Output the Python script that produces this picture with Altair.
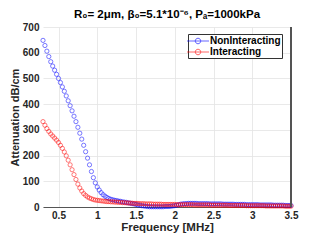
import altair as alt
import pandas as pd

freq = [
    0.300, 0.325, 0.350, 0.375, 0.400, 0.425, 0.450, 0.475, 0.500, 0.525,
    0.550, 0.575, 0.600, 0.625, 0.650, 0.675, 0.700, 0.725, 0.750, 0.775,
    0.800, 0.825, 0.850, 0.875, 0.900, 0.925, 0.950, 0.975, 1.000, 1.025,
    1.050, 1.075, 1.100, 1.125, 1.150, 1.175, 1.200, 1.225, 1.250, 1.275,
    1.300, 1.325, 1.350, 1.375, 1.400, 1.425, 1.450, 1.475, 1.500, 1.525,
    1.550, 1.575, 1.600, 1.625, 1.650, 1.675, 1.700, 1.725, 1.750, 1.775,
    1.800, 1.825, 1.850, 1.875, 1.900, 1.925, 1.950, 1.975, 2.000, 2.025,
    2.050, 2.075, 2.100, 2.125, 2.150, 2.175, 2.200, 2.225, 2.250, 2.275,
    2.300, 2.325, 2.350, 2.375, 2.400, 2.425, 2.450, 2.475, 2.500, 2.525,
    2.550, 2.575, 2.600, 2.625, 2.650, 2.675, 2.700, 2.725, 2.750, 2.775,
    2.800, 2.825, 2.850, 2.875, 2.900, 2.925, 2.950, 2.975, 3.000, 3.025,
    3.050, 3.075, 3.100, 3.125, 3.150, 3.175, 3.200, 3.225, 3.250, 3.275,
    3.300, 3.325, 3.350, 3.375, 3.400, 3.425, 3.450, 3.475, 3.500,
]

non_interacting = [
    648, 628, 606, 585, 565, 548, 532, 516, 500, 484,
    467, 450, 432, 413, 394, 374, 353, 332, 310, 287,
    264, 240, 215, 190, 164, 138, 114, 94, 78, 66,
    56, 48, 42, 37, 33, 30, 28, 26, 25, 23,
    22, 20, 19, 18, 16, 15, 13, 12, 10, 8,
    7, 5, 4, 3, 2, 1, 1, 1, 1, 1,
    1, 1, 1, 2, 2, 2, 3, 4, 5, 7,
    9, 11, 12, 13, 13, 14, 14, 14, 14, 14,
    13, 13, 13, 13, 13, 13, 12, 12, 12, 12,
    12, 12, 12, 11, 11, 11, 11, 11, 11, 10,
    10, 10, 10, 10, 10, 9, 9, 9, 9, 9,
    9, 9, 8, 8, 8, 8, 8, 8, 8, 7,
    7, 7, 7, 7, 7, 6, 6, 6, 6,
]

interacting = [
    332, 318, 305, 294, 284, 276, 268, 260, 251, 240,
    228, 214, 199, 182, 164, 145, 126, 107, 89, 74,
    62, 52, 45, 39, 35, 32, 29, 27, 26, 25,
    24, 23, 22, 21, 21, 20, 20, 19, 19, 18,
    18, 17, 17, 16, 16, 15, 15, 14, 14, 14,
    13, 13, 13, 12, 12, 12, 12, 11, 11, 11,
    11, 11, 10, 10, 10, 10, 10, 10, 10, 9,
    9, 9, 9, 9, 9, 9, 9, 9, 8, 8,
    8, 8, 8, 8, 8, 8, 8, 7, 7, 7,
    7, 7, 7, 7, 7, 7, 6, 6, 6, 6,
    6, 6, 6, 6, 6, 5, 5, 5, 5, 5,
    5, 5, 5, 5, 5, 4, 4, 4, 4, 4,
    4, 4, 4, 4, 4, 3, 3, 3, 3,
]

series_names = ["NonInteracting", "Interacting"]
series_colors = ["#0000ff", "#ff0000"]
x_ticks = [0.5, 1, 1.5, 2, 2.5, 3, 3.5]
y_ticks = [0, 100, 200, 300, 400, 500, 600, 700]
title_text = ["R₀= 2μm, β₀=5.1*10⁻⁶, Pₐ=1000kPa"]

df = pd.concat([
    pd.DataFrame({"f": freq, "att": non_interacting, "series": series_names[0], "ord": 0}),
    pd.DataFrame({"f": freq, "att": interacting, "series": series_names[1], "ord": 1}),
], ignore_index=True)

FONT = "Liberation Sans"
W, H = 248, 180

legend_path = "M-2,0H2M0.5,0A0.5,0.5,0,1,1,-0.5,0A0.5,0.5,0,1,1,0.5,0"

points = alt.Chart(df).mark_point(
    shape="circle", filled=False, size=18, strokeWidth=0.7, opacity=0.75, clip=False
).encode(
    x=alt.X("f:Q", scale=alt.Scale(domain=[0.3, 3.5], nice=False, zero=False),
            axis=alt.Axis(values=x_ticks, title="Frequency [MHz]", format="~g",
                          grid=True, gridColor="#e3e3e3", gridWidth=0.8,
                          domain=True, domainColor="#555555", domainWidth=1,
                          ticks=False, labelPadding=3, labelFlush=False,
                          labelFont=FONT, labelFontSize=10, labelFontWeight="bold",
                          labelColor="#262626", titleFont=FONT, titleFontSize=11.5,
                          titleFontWeight="bold", titleColor="#262626", titlePadding=1)),
    y=alt.Y("att:Q", scale=alt.Scale(domain=[0, 700], nice=False),
            axis=alt.Axis(values=y_ticks, title="Attenuation dB/cm",
                          grid=True, gridColor="#e3e3e3", gridWidth=0.8,
                          domain=False, ticks=False, labelPadding=4, labelFlush=False,
                          labelFont=FONT, labelFontSize=10, labelFontWeight="bold",
                          labelColor="#262626", titleFont=FONT, titleFontSize=11,
                          titleFontWeight="bold", titleColor="#262626", titlePadding=2)),
    color=alt.Color("series:N",
                    scale=alt.Scale(domain=series_names, range=series_colors),
                    legend=alt.Legend(
                        title=None, orient="none", legendX=145, legendY=7,
                        symbolType=legend_path, symbolSize=121, symbolStrokeWidth=0.8,
                        symbolOffset=3, labelOffset=6, rowPadding=0, padding=1,
                        labelFont=FONT, labelFontSize=10, labelFontWeight="bold",
                        labelColor="#000000", fillColor="#ffffff",
                        strokeColor="#333333", symbolFillColor="transparent")),
    order=alt.Order("ord:Q"),
)

right_border = alt.Chart(df).mark_rule(color="#555555", strokeWidth=1).encode(
    x=alt.value(W), y=alt.value(0), y2=alt.value(H)
)

title_mark = alt.Chart(pd.DataFrame({"t": title_text})).mark_text(
    font=FONT, fontSize=11.5, fontWeight="bold", color="#000000",
    align="center", baseline="alphabetic"
).encode(text="t:N", x=alt.value(W / 2), y=alt.value(-9))

chart = alt.layer(points, right_border, title_mark).properties(
    width=W, height=H,
    autosize=alt.AutoSizeParams(type="none"),
    padding={"left": 35, "top": 19, "right": 19, "bottom": 26},
).configure_view(stroke=None)

chart.save("out.html", embed_options={"renderer": "svg", "actions": False})
